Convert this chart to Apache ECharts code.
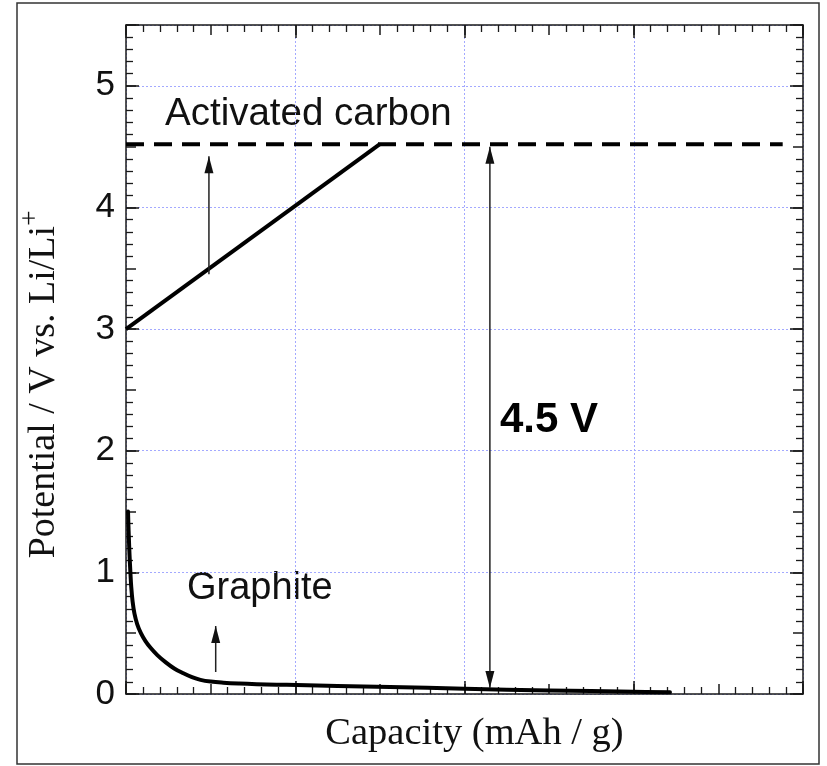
<!DOCTYPE html>
<html>
<head>
<meta charset="utf-8">
<script src="https://cdn.jsdelivr.net/npm/echarts@6/dist/echarts.min.js"></script>
<style>
  html, body { margin: 0; padding: 0; background: #fff; }
  #chart { width: 827px; height: 766px; }
</style>
</head>
<body>
<div id="chart"></div>
<script>
// Axis ranges and tick labels
const xRange = [0, 4];
const yRange = [0, 5.5];
const yTickLabels = ['0', '1', '2', '3', '4', '5'];

// Activated carbon electrode: linear rise in potential
const activatedCarbon = [[0, 3.0], [1.5, 4.52]];
// Upper cut-off potential (dashed)
const cutoffLine = [[0, 4.52], [3.88, 4.52]];
// Graphite electrode: steep drop then flat plateau
const graphite = [
  [0.012, 1.5], [0.014, 1.4], [0.017, 1.28], [0.021, 1.14], [0.026, 1.0],
  [0.031, 0.88], [0.039, 0.76], [0.05, 0.66], [0.066, 0.575], [0.088, 0.5],
  [0.115, 0.435], [0.145, 0.38], [0.185, 0.32], [0.235, 0.26], [0.285, 0.21],
  [0.339, 0.17], [0.39, 0.138], [0.44, 0.116], [0.5, 0.102], [0.575, 0.093],
  [0.67, 0.086], [0.772, 0.081], [0.89, 0.077], [1.009, 0.074], [1.25, 0.066],
  [1.56, 0.058], [2.0, 0.043], [2.5, 0.029], [3.0, 0.019], [3.214, 0.014]
];
// Arrows: [x, yStart, yEnd]
const arrowCarbon = [0.49, 3.45, 4.42];
const arrowGraphite = [0.53, 0.18, 0.56];
const arrowCell = [2.15, 0.05, 4.5];

const chart = echarts.init(document.getElementById('chart'), null, { renderer: 'canvas' });

const ink = '#1a1a1a';
const gridBlue = '#a3a9ff';
const sans = 'Liberation Sans';
const serif = 'Liberation Serif';

function frameAxis(dim, position, interval, tickLen, opts) {
  const range = dim === 'x' ? xRange : yRange;
  return Object.assign({
    type: 'value',
    position: position,
    min: range[0],
    max: range[1],
    interval: interval,
    axisLine: { show: false, onZero: false, lineStyle: { color: ink, width: 1.5 } },
    axisTick: { show: true, inside: true, length: tickLen, lineStyle: { color: ink, width: 1.5 } },
    axisLabel: { show: false },
    splitLine: { show: false }
  }, opts || {});
}

const minor = { show: true, splitNumber: 5, length: 7, lineStyle: { color: ink, width: 1.3 } };
const dotted = { show: true, lineStyle: { color: gridBlue, width: 1, type: [2, 2] } };
const frameLine = { show: true, onZero: false, lineStyle: { color: ink, width: 1.5 } };

const xAxes = [
  frameAxis('x', 'bottom', 0.5, 10, { axisLine: frameLine, minorTick: minor }),
  frameAxis('x', 'top', 0.5, 10, { axisLine: frameLine, minorTick: minor }),
  frameAxis('x', 'bottom', 1, 13, {
    splitLine: dotted,
    name: 'Capacity (mAh / g)',
    nameLocation: 'middle',
    nameGap: 20,
    nameTextStyle: { fontFamily: serif, fontSize: 38.5, color: '#111', padding: [0, 0, 0, 20] }
  }),
  frameAxis('x', 'top', 1, 13)
];

const yAxes = [
  frameAxis('y', 'left', 0.5, 10, { axisLine: frameLine, minorTick: minor }),
  frameAxis('y', 'right', 0.5, 10, { axisLine: frameLine, minorTick: minor }),
  frameAxis('y', 'left', 1, 13, {
    splitLine: dotted,
    axisLabel: {
      show: true,
      margin: 11,
      fontFamily: sans,
      fontSize: 35,
      color: '#111',
      formatter: function (v) {
        const i = yTickLabels.indexOf(String(v));
        return i >= 0 ? yTickLabels[i] : '';
      }
    },
    name: '{m|Potential / V vs. Li/Li}{s|+}',
    nameLocation: 'middle',
    nameGap: 63,
    nameTextStyle: {
      color: '#111',
      padding: [0, 50, 0, 0],
      rich: {
        m: { fontFamily: serif, fontSize: 38, color: '#111', lineHeight: 38, verticalAlign: 'bottom' },
        s: { fontFamily: serif, fontSize: 27, color: '#111', lineHeight: 46, verticalAlign: 'top' }
      }
    }
  }),
  frameAxis('y', 'right', 1, 13)
];

function arrowSeries(a, both) {
  const head = { symbol: 'triangle', symbolSize: [9, 17] };
  const start = both
    ? Object.assign({ value: [a[0], a[1]], symbolRotate: 180, symbolOffset: [0, '-50%'] }, head)
    : { value: [a[0], a[1]], symbol: 'none' };
  const end = Object.assign({ value: [a[0], a[2]], symbolOffset: [0, '50%'] }, head);
  return {
    type: 'line',
    xAxisIndex: 0,
    yAxisIndex: 0,
    showSymbol: true,
    symbol: 'none',
    lineStyle: { color: '#222', width: 1.5 },
    itemStyle: { color: '#111' },
    data: [start, end],
    z: 4
  };
}

chart.setOption({
  animation: false,
  backgroundColor: '#fff',
  grid: { left: 126, right: 24, top: 25, bottom: 72, containLabel: false },
  xAxis: xAxes,
  yAxis: yAxes,
  series: [
    {
      type: 'line', xAxisIndex: 0, yAxisIndex: 0, symbol: 'none',
      lineStyle: { color: '#000', width: 4, type: [18, 10] },
      data: cutoffLine, z: 3
    },
    {
      type: 'line', xAxisIndex: 0, yAxisIndex: 0, symbol: 'none',
      lineStyle: { color: '#000', width: 4 },
      data: activatedCarbon, z: 3
    },
    {
      type: 'line', xAxisIndex: 0, yAxisIndex: 0, symbol: 'none', smooth: 0.4,
      lineStyle: { color: '#000', width: 4, join: 'round', cap: 'round' },
      data: graphite, z: 3
    },
    arrowSeries(arrowCarbon, false),
    arrowSeries(arrowGraphite, false),
    arrowSeries(arrowCell, true)
  ],
  graphic: [
    {
      type: 'rect', z: -1, silent: true,
      shape: { x: 17, y: 3, width: 802, height: 761 },
      style: { fill: 'none', stroke: '#333', lineWidth: 1.5 }
    },
    {
      type: 'text', left: 165, top: 95,
      style: { text: 'Activated carbon', font: '38.5px "Liberation Sans"', fill: '#111' }
    },
    {
      type: 'text', left: 187, top: 570,
      style: { text: 'Graphite', font: '38px "Liberation Sans"', fill: '#111' }
    },
    {
      type: 'text', left: 500, top: 399,
      style: { text: '4.5 V', font: 'bold 42px "Liberation Sans"', fill: '#000' }
    }
  ]
});
</script>
</body>
</html>
